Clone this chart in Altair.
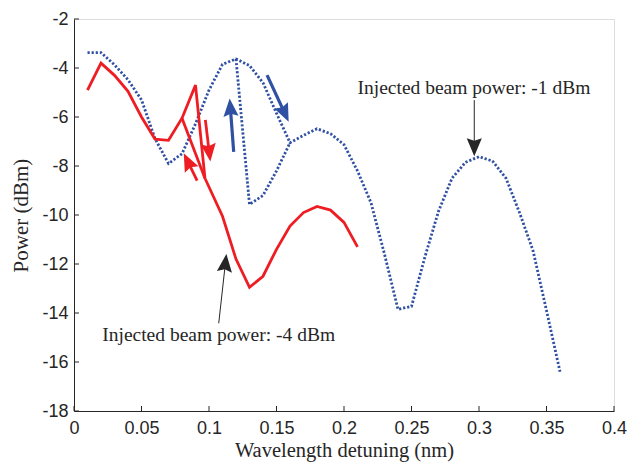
import math
import altair as alt
import pandas as pd

# ---------------- data ----------------
# Injected beam power -1 dBm (blue dotted), main path incl. upper branch
blue_x = [0.01, 0.02, 0.03, 0.04, 0.05, 0.06, 0.07, 0.08, 0.09, 0.10,
          0.11, 0.12, 0.13, 0.14, 0.15, 0.16, 0.17, 0.18, 0.19, 0.20,
          0.21, 0.22, 0.23, 0.24, 0.25, 0.26, 0.27, 0.28, 0.29, 0.30,
          0.31, 0.32, 0.33, 0.34, 0.35, 0.36]
blue_y = [-3.37, -3.37, -3.87, -4.48, -5.30, -6.88, -7.90, -7.50, -6.28, -4.90,
          -3.85, -3.63, -3.90, -4.60, -5.85, -7.05, -6.75, -6.48, -6.68, -7.13,
          -8.20, -9.50, -11.60, -13.85, -13.73, -11.70, -9.85, -8.50, -7.85, -7.62,
          -7.80, -8.50, -9.90, -11.45, -13.90, -16.40]
# blue lower (hysteresis) branch
blue_low_x = [0.12, 0.13, 0.14, 0.15, 0.16]
blue_low_y = [-3.63, -9.57, -9.20, -8.20, -7.05]

# Injected beam power -4 dBm (red solid), main path
red_x = [0.01, 0.02, 0.03, 0.04, 0.05, 0.06, 0.07, 0.08, 0.09, 0.097,
         0.11, 0.12, 0.13, 0.14, 0.15, 0.16, 0.17, 0.18, 0.19, 0.20, 0.21]
red_y = [-4.90, -3.80, -4.30, -4.95, -6.00, -6.90, -6.95, -6.05, -4.70, -8.50,
         -10.05, -11.80, -12.95, -12.50, -11.40, -10.45, -9.90, -9.65, -9.80, -10.30, -11.30]
# red second branch
red_br_x = [0.08, 0.097]
red_br_y = [-6.05, -8.50]

x_ticks = [0, 0.05, 0.1, 0.15, 0.2, 0.25, 0.3, 0.35, 0.4]
y_ticks = [-18, -16, -14, -12, -10, -8, -6, -4, -2]

# annotation / direction arrows: tail -> tip (data units)
arr_tail_x = [0.1183, 0.1430, 0.0973, 0.0912, 0.2965, 0.1072]
arr_tail_y = [-7.42, -4.29, -6.12, -8.60, -5.31, -14.42]
arr_tip_x = [0.1153, 0.1590, 0.1010, 0.0813, 0.2965, 0.1129]
arr_tip_y = [-5.24, -6.19, -7.82, -7.48, -7.60, -11.59]
arr_kind = ["blue", "blue", "red", "red", "note", "note"]

note_text = ["Injected beam power: -1 dBm", "Injected beam power: -4 dBm"]
note_x = [0.2100, 0.0209]
note_y = [-5.07, -15.13]

# ---------------- styling ----------------
W, H = 540, 392
XD, YD = [0, 0.4], [-18, -2]
BLUE = "#3050a3"
RED = "#ee1d24"
INK = "#262626"
PXX = W / (XD[1] - XD[0])
PXY = H / (YD[1] - YD[0])

style = {
    "blue": dict(color=BLUE, w=3.2, hl=18),
    "red": dict(color=RED, w=2.8, hl=18),
    "note": dict(color=INK, w=1.0, hl=18),
}


def line_df(xs, ys, seg):
    return pd.DataFrame({"x": xs, "y": ys, "seg": seg, "ord": list(range(len(xs)))})


blue_df = pd.concat([line_df(blue_x, blue_y, "a"), line_df(blue_low_x, blue_low_y, "b")])
red_df = pd.concat([line_df(red_x, red_y, "a"), line_df(red_br_x, red_br_y, "b")])

rows = []
for tx, ty, px, py, k in zip(arr_tail_x, arr_tail_y, arr_tip_x, arr_tip_y, arr_kind):
    s = style[k]
    dxp = (px - tx) * PXX
    dyp = -(py - ty) * PXY
    L = math.hypot(dxp, dyp)
    ang = math.degrees(math.atan2(dxp, -dyp)) % 360
    back = s["hl"] * 0.6
    ex = px - (dxp / L) * back / PXX
    ey = py + (dyp / L) * back / PXY
    rows.append(dict(x=tx, y=ty, x2=ex, y2=ey, tipx=px, tipy=py, color=s["color"],
                     w=s["w"], angle=ang, size=(2 * s["hl"]) ** 2, kind=k))
arr_df = pd.DataFrame(rows)

notes_df = pd.DataFrame({"x": note_x, "y": note_y, "t": note_text})
xt_df = pd.DataFrame({"x": x_ticks})
yt_df = pd.DataFrame({"y": y_ticks})

xs = alt.Scale(domain=XD, nice=False, zero=False)
ys = alt.Scale(domain=YD, nice=False, zero=False)

common_axis = dict(grid=False, ticks=False, tickSize=0, domainColor=INK, domainWidth=1,
                   labelFont="Liberation Sans", labelFontSize=18, labelColor=INK,
                   titleFont="Liberation Serif", titleFontWeight="normal",
                   titleColor=INK, labelFlush=False)
x_axis = alt.Axis(values=x_ticks, format=".2~f", title="Wavelength detuning (nm)",
                  labelPadding=8, titlePadding=3, titleFontSize=20.5, **common_axis)
y_axis = alt.Axis(values=y_ticks, labelExpr="'' + datum.value", title="Power (dBm)",
                  labelPadding=6, titlePadding=10, titleFontSize=21, **common_axis)


def X(field):
    return alt.X(field, type="quantitative", scale=xs, axis=x_axis, title="Wavelength detuning (nm)")


def Y(field):
    return alt.Y(field, type="quantitative", scale=ys, axis=y_axis, title="Power (dBm)")


blue_line = alt.Chart(blue_df).mark_line(
    color=BLUE, strokeWidth=2.8, strokeDash=[2.2, 1.9], strokeCap="butt"
).encode(x=X("x"), y=Y("y"), detail="seg:N", order="ord:Q")

red_line = alt.Chart(red_df).mark_line(color=RED, strokeWidth=2.8, strokeJoin="miter").encode(
    x=X("x"), y=Y("y"), detail="seg:N", order="ord:Q"
)

shafts = alt.Chart(arr_df).mark_rule(strokeCap="butt").encode(
    x=X("x"), y=Y("y"), x2="x2:Q", y2="y2:Q",
    color=alt.Color("color:N", scale=None),
    strokeWidth=alt.StrokeWidth("w:Q", scale=None),
)

head_path = "M0,0L0.42,1L0,0.86L-0.42,1Z"
heads = alt.Chart(arr_df).mark_point(shape=head_path, filled=True, opacity=1, strokeWidth=0).encode(
    x=X("tipx"), y=Y("tipy"),
    color=alt.Color("color:N", scale=None),
    angle=alt.Angle("angle:Q", scale=None),
    size=alt.Size("size:Q", scale=None),
)

notes = alt.Chart(notes_df).mark_text(
    align="left", baseline="alphabetic", font="Liberation Serif", fontSize=19.5, color=INK
).encode(x=X("x"), y=Y("y"), text="t:N")

xticks = alt.Chart(xt_df).mark_rule(color=INK, strokeWidth=1).encode(
    x=X("x"), y=alt.value(H), y2=alt.value(H - 5)
)
yticks = alt.Chart(yt_df).mark_rule(color=INK, strokeWidth=1).encode(
    y=Y("y"), x=alt.value(0), x2=alt.value(5)
)

chart = alt.layer(
    blue_line, red_line, shafts, heads, notes, xticks, yticks
).properties(
    width=W, height=H,
    autosize=alt.AutoSizeParams(type="none"),
    padding={"left": 74, "top": 19, "right": 15, "bottom": 52},
).configure_view(stroke=None).configure(background="white")

chart.save("out.html", embed_options={"renderer": "svg", "actions": False})
